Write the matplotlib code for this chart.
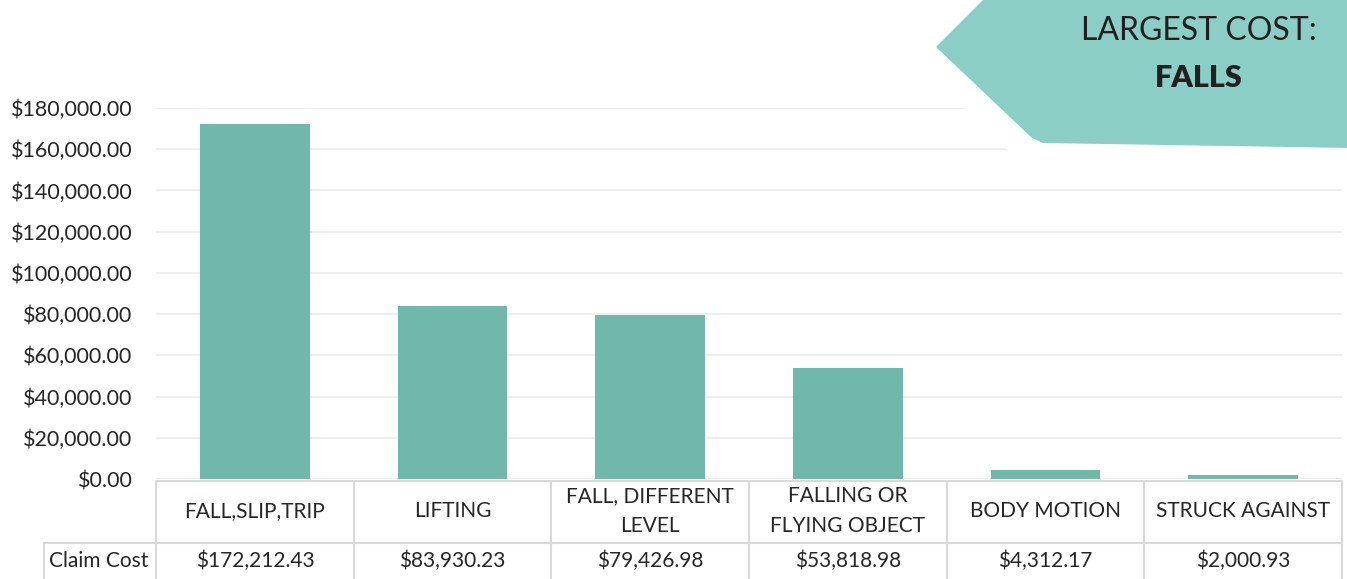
import matplotlib.pyplot as plt
import matplotlib.transforms as mtransforms
from matplotlib.patches import Polygon
import numpy as np

# data
categories = ["FALL,SLIP,TRIP", "LIFTING", "FALL, DIFFERENT\nLEVEL",
              "FALLING OR\nFLYING OBJECT", "BODY MOTION", "STRUCK AGAINST"]
claim_cost = [172212.43, 83930.23, 79426.98, 53818.98, 4312.17, 2000.93]
y_ticks = np.arange(0, 180001, 20000)

BAR_COLOR = "#70b8a9"
BANNER_COLOR = "#8acec6"
GRID_COLOR = "#ebebeb"
TABLE_COLOR = "#d9d9d9"
TEXT_COLOR = "#262626"

W, H = 1347, 579
fig = plt.figure(figsize=(W / 100, H / 100), dpi=100)
plt.rcParams["font.family"] = ["Lato", "DejaVu Sans"]

# main chart area (pixel box 156..1342, 108..479)
ax = fig.add_axes([156 / W, 1 - 479 / H, (1342 - 156) / W, (479 - 108) / H])
x = np.arange(len(categories))
ax.bar(x, claim_cost, width=0.556, color=BAR_COLOR, zorder=3)
ax.set_xlim(-0.5, len(categories) - 0.5)
ax.set_ylim(0, 180000)
ax.set_yticks(y_ticks)
ax.set_yticklabels([f"${v:,.2f}" for v in y_ticks], fontsize=15.5, color=TEXT_COLOR)
ax.set_xticks([])
ax.tick_params(axis="y", length=0, pad=17)
ax.grid(axis="y", color=GRID_COLOR, linewidth=1.2, zorder=0)
for s in ax.spines.values():
    s.set_visible(False)
ax.patch.set_alpha(0)

# overlay in pixel coords for the data table and the banner
ov = fig.add_axes([0, 0, 1, 1], zorder=5)
ov.set_xlim(0, W)
ov.set_ylim(H, 0)
ov.axis("off")
ov.patch.set_alpha(0)
blend = mtransforms.blended_transform_factory(ax.transData, ov.transData)

# data table
edges = np.arange(len(categories) + 1) - 0.5
ov.plot([-0.5, len(categories) - 0.5], [481, 481], color=TABLE_COLOR, lw=1.5, transform=blend)
ov.plot([44, 156], [543, 543], color=TABLE_COLOR, lw=1.5)
ov.plot([-0.5, len(categories) - 0.5], [543, 543], color=TABLE_COLOR, lw=1.5, transform=blend)
ov.plot([44, 44], [543, 579], color=TABLE_COLOR, lw=1.5)
for e in edges:
    ov.plot([e, e], [481, 579], color=TABLE_COLOR, lw=1.5, transform=blend)
for i, (cat, val) in enumerate(zip(categories, claim_cost)):
    ov.text(i, 511, cat, transform=blend, ha="center", va="center",
            fontsize=15, color=TEXT_COLOR, linespacing=1.6)
    ov.text(i, 561, f"${val:,.2f}", transform=blend, ha="center", va="center",
            fontsize=15, color=TEXT_COLOR)
ov.text(99, 561, "Claim Cost", ha="center", va="center", fontsize=15, color=TEXT_COLOR)

# banner in the top right corner
pts = [(983, 0), (W + 5, 0), (W + 5, 148), (1043, 143), (1032, 138), (936, 47)]
ov.add_patch(Polygon(pts, closed=True, facecolor="white", edgecolor="white",
                     lw=36, joinstyle="round", zorder=1))
ov.add_patch(Polygon(pts, closed=True, facecolor=BANNER_COLOR, edgecolor="none", zorder=2))
ov.text(1199, 31, "LARGEST COST:", ha="center", va="center", fontsize=23,
        fontweight="normal", color="#231f20", zorder=3)
ov.text(1199, 78, "FALLS", ha="center", va="center", fontsize=22,
        fontweight="heavy", color="#231f20", zorder=3)

fig.savefig("out.png", dpi=100)
